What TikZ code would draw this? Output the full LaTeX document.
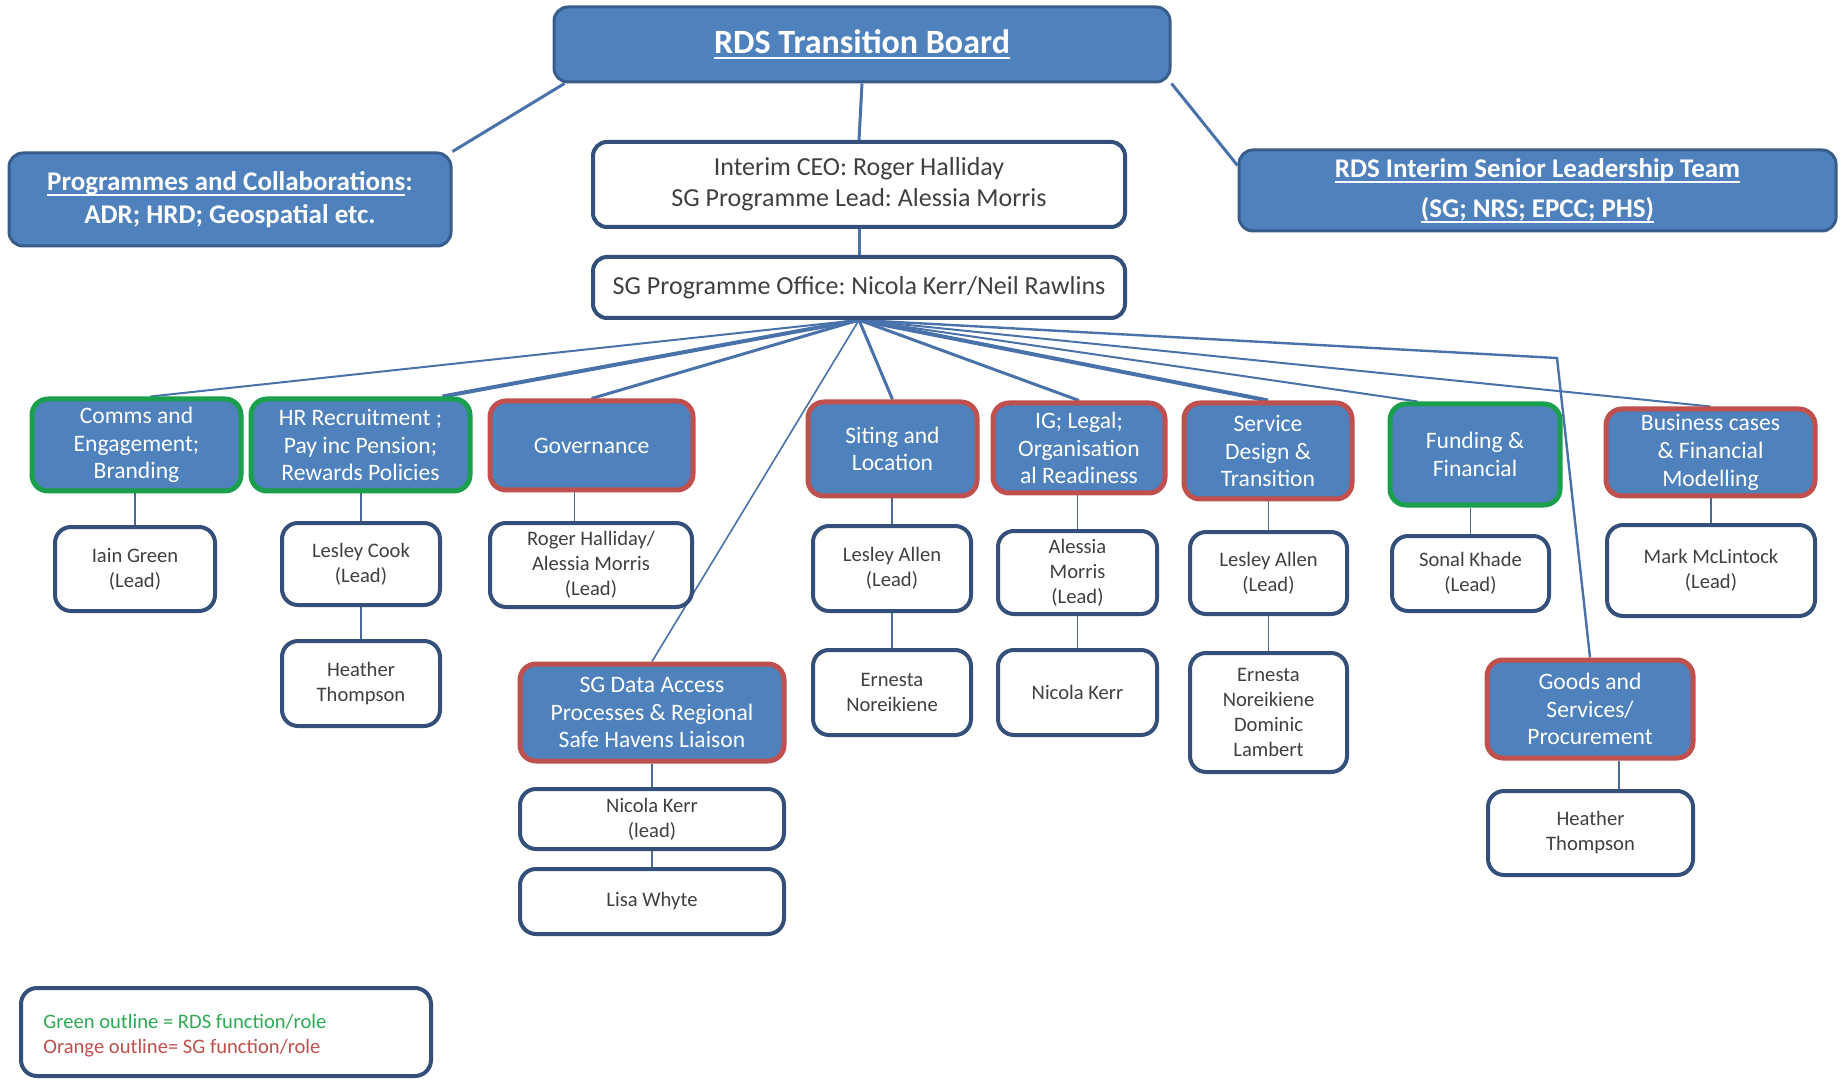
\documentclass[tikz,border=0pt]{standalone}
\usepackage{fontspec}
\setmainfont{Carlito}
\usetikzlibrary{calc,backgrounds}

\definecolor{boxblue}{HTML}{4F81BD}
\definecolor{bordblue}{HTML}{385D8A}
\definecolor{navy}{HTML}{34507A}
\definecolor{rdsgreen}{HTML}{1AA04C}
\definecolor{sgred}{HTML}{C0504D}
\definecolor{lineblue}{HTML}{4A72AA}
\definecolor{stemblue}{HTML}{4A6B99}
\definecolor{txtgray}{HTML}{404040}
\definecolor{leggreen}{HTML}{2EAA55}

% heavier underline for the headings
\newcommand\undl[1]{\leavevmode\setbox0=\hbox{#1}\rlap{\copy0}\rule[-2.8pt]{\wd0}{1pt}}

% box from corner (x1,y1) to corner (x2,y2), in pixel units
\newcommand\placebox[7]{%
  \node[#1, minimum width={(#5-#3)*0.5pt}, minimum height={(#6-#4)*0.5pt}]
    (#2) at ({(#3+#5)/2},{(#4+#6)/2}) {#7};}

\frenchspacing
\begin{document}
\begin{tikzpicture}[x=0.5pt, y=-0.5pt,
  topbox/.style={draw=bordblue, fill=boxblue, line width=1.5pt, rounded corners=7pt,
    text=white, align=center, inner sep=0pt, font=\bfseries\fontsize{13.5}{16.5}\selectfont},
  headbox/.style={draw=navy, fill=white, line width=2pt, rounded corners=7pt,
    text=txtgray, align=center, inner sep=0pt, font=\fontsize{13}{15.5}\selectfont},
  rdsbox/.style={draw=rdsgreen, fill=boxblue, line width=2.5pt, rounded corners=8pt,
    text=white, align=center, inner sep=0pt, font=\fontsize{11.8}{13.8}\selectfont},
  sgbox/.style={rdsbox, draw=sgred},
  personbox/.style={draw=navy, fill=white, line width=2pt, rounded corners=8pt,
    text=txtgray, align=center, inner sep=0pt, font=\fontsize{10.3}{12.5}\selectfont},
  link/.style={draw=lineblue, line width=1.5pt},
  thinlink/.style={draw=lineblue, line width=0.8pt},
  stem/.style={draw=stemblue, line width=0.7pt}]

\useasboundingbox (0,0) rectangle (1842,1080);

% top level
\placebox{topbox, font=\bfseries\fontsize{17}{20}\selectfont}{board}{554}{7}{1170}{82}{\undl{RDS Transition Board}}
\placebox{topbox}{prog}{9}{153}{451}{246}{\undl{Programmes and Collaborations}:\\ADR; HRD; Geospatial etc.}
\placebox{topbox, font=\bfseries\fontsize{13.5}{20}\selectfont}{slt}{1239}{150}{1836}{231}{\undl{RDS Interim Senior Leadership Team}\\\undl{(SG; NRS; EPCC; PHS)}}
\placebox{headbox}{ceo}{593}{142}{1125}{227}{Interim CEO: Roger Halliday\\SG Programme Lead: Alessia Morris}
\placebox{headbox}{office}{593}{257}{1125}{318}{SG Programme Office: Nicola Kerr/Neil Rawlins}

% workstreams
\placebox{rdsbox}{comms}{32}{399}{241}{491}{Comms and\\Engagement;\\Branding}
\placebox{rdsbox}{hr}{251}{399}{470}{491}{HR Recruitment ;\\Pay inc Pension;\\Rewards Policies}
\placebox{sgbox}{gov}{490}{401}{693}{490}{Governance}
\placebox{sgbox}{siting}{808}{402}{977}{496}{Siting and\\Location}
\placebox{sgbox}{ig}{993}{403}{1165}{493}{IG; Legal;\\Organisation\\al Readiness}
\placebox{sgbox}{service}{1184}{403}{1352}{499}{Service\\Design \&\\Transition}
\placebox{rdsbox}{fund}{1390}{404}{1560}{505}{Funding \&\\Financial}
\placebox{sgbox}{biz}{1606}{409}{1815}{496}{Business cases\\\& Financial\\Modelling}
\placebox{sgbox}{data}{520}{664}{784}{761}{SG Data Access\\Processes \& Regional\\Safe Havens Liaison}
\placebox{sgbox}{goods}{1487}{660}{1693}{758}{Goods and\\Services/\\Procurement}

% people
\placebox{personbox}{iain}{55}{527}{215}{611}{Iain Green\\(Lead)}
\placebox{personbox}{cook}{282}{523}{440}{605}{Lesley Cook\\(Lead)}
\placebox{personbox}{heatherA}{282}{641}{440}{726}{Heather\\Thompson}
\placebox{personbox}{roger}{490}{523}{692}{607}{Roger Halliday/\\Alessia Morris\\(Lead)}
\placebox{personbox}{nkl}{520}{789}{784}{849}{Nicola Kerr\\(lead)}
\placebox{personbox}{lisa}{520}{869}{784}{934}{Lisa Whyte}
\placebox{personbox}{allenA}{813}{526}{971}{611}{Lesley Allen\\(Lead)}
\placebox{personbox}{ernA}{813}{650}{971}{735}{Ernesta\\Noreikiene}
\placebox{personbox}{alessia}{998}{531}{1157}{614}{Alessia\\Morris\\(Lead)}
\placebox{personbox}{nicola}{998}{650}{1157}{735}{Nicola Kerr}
\placebox{personbox}{allenB}{1190}{532}{1347}{614}{Lesley Allen\\(Lead)}
\placebox{personbox}{ernB}{1190}{653}{1347}{772}{Ernesta\\Noreikiene\\Dominic\\Lambert}
\placebox{personbox}{sonal}{1392}{536}{1549}{611}{Sonal Khade\\(Lead)}
\placebox{personbox}{mark}{1607}{525}{1815}{616}{Mark McLintock\\(Lead)}
\placebox{personbox}{heatherB}{1488}{791}{1693}{875}{Heather\\Thompson}

% key
\placebox{personbox}{legend}{21}{988}{431}{1076}{}
\node[anchor=west, align=left, inner sep=0pt, font=\fontsize{10.3}{12.5}\selectfont]
  (legtext) at ($(legend.west)+(24,4)$)
  {\textcolor{leggreen}{Green outline = RDS function/role}\\\textcolor{sgred}{Orange outline= SG function/role}};

\coordinate (bend) at (1557,358);
\coordinate (govstem) at ($(gov.south)+(-17,0)$);
\coordinate (gdstem) at ($(goods.south)+(29,0)$);

\begin{scope}[on background layer]
  \fill[white] (0,0) rectangle (1842,1080);
  % board links
  \draw[link] ($(board.south west)+(12,0)$) -- (prog.north east);
  \draw[link] (board.south) -- (ceo.north);
  \draw[link] (board.south east) -- ($(slt.north west)+(0,17)$);
  \draw[link] (ceo.south) -- (office.north);
  % programme office to workstreams
  \draw[link, line width=1pt] (office.south) -- ($(comms.north)+(14,0)$);
  \draw[link, line width=2pt] (office.south) -- ($(hr.north east)+(-30,0)$);
  \draw[link] (office.south) -- (gov.north);
  \draw[thinlink] (office.south) -- (data.north);
  \draw[link] (office.south) -- (siting.north);
  \draw[link] (office.south) -- (ig.north);
  \draw[link, line width=2pt] (office.south) -- (service.north);
  \draw[link, line width=1pt] (office.south) -- ($(fund.north west)+(30,0)$);
  \draw[link, line width=1pt] (office.south) -- (biz.north);
  \draw[link, line width=1.2pt] (office.south) -- (bend) -- (goods.north);
  % workstreams to people
  \draw[stem] (iain.north) -- (iain.north |- comms.south);
  \draw[stem] (cook.north) -- (cook.north |- hr.south);
  \draw[stem] (heatherA.north) -- (heatherA.north |- cook.south);
  \draw[stem] (govstem) -- (govstem |- roger.north);
  \draw[stem] (nkl.north) -- (nkl.north |- data.south);
  \draw[stem] (lisa.north) -- (lisa.north |- nkl.south);
  \draw[stem] (allenA.north) -- (allenA.north |- siting.south);
  \draw[stem] (ernA.north) -- (ernA.north |- allenA.south);
  \draw[stem] (alessia.north) -- (alessia.north |- ig.south);
  \draw[stem] (nicola.north) -- (nicola.north |- alessia.south);
  \draw[stem] (allenB.north) -- (allenB.north |- service.south);
  \draw[stem] (ernB.north) -- (ernB.north |- allenB.south);
  \draw[stem] (sonal.north) -- (sonal.north |- fund.south);
  \draw[stem] (mark.north) -- (mark.north |- biz.south);
  \draw[stem] (gdstem) -- (gdstem |- heatherB.north);
\end{scope}
\end{tikzpicture}
\end{document}
